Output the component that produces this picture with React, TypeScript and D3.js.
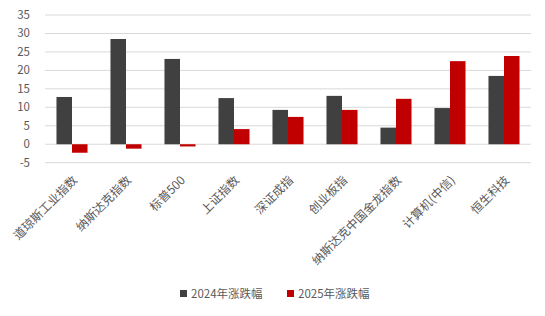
import React from "react";
import * as d3 from "d3";

const categories = ["道琼斯工业指数", "纳斯达克指数", "标普500", "上证指数", "深证成指", "创业板指", "纳斯达克中国金龙指数", "计算机(中信)", "恒生科技"];
const series2024 = [12.8, 28.5, 23.1, 12.5, 9.3, 13.1, 4.5, 9.8, 18.5];
const series2025 = [-2.3, -1.2, -0.6, 4.1, 7.4, 9.3, 12.3, 22.5, 23.9];
const yTicks = [-5, 0, 5, 10, 15, 20, 25, 30, 35];
const seriesNames = ["2024年涨跌幅", "2025年涨跌幅"];
const colors = ["#404040", "#c00000"];

const W = 545, H = 316;
const font = "'Noto Sans CJK SC', 'Microsoft YaHei', sans-serif";

export default function App() {
  const x = d3.scaleBand<string>().domain(categories).range([45, 531]).paddingInner(0.425).paddingOuter(0.2125);
  const y = d3.scaleLinear().domain([-5, 35]).range([162.7, 15]);
  const bw = x.bandwidth() / 2;
  const data = [series2024, series2025];
  return (
    <svg width={W} height={H} style={{ position: "absolute", left: 0, top: 0, background: "#fff" }} fontFamily={font}>
      {yTicks.map((t) => (
        <g key={t}>
          <line x1={45} x2={531} y1={y(t)} y2={y(t)} stroke="#d9d9d9" strokeWidth={1} />
          <text x={30} y={y(t)} dy="0.35em" textAnchor="end" fontSize={11.5} fill="#595959">{t}</text>
        </g>
      ))}
      {data.map((s, si) =>
        s.map((v, i) => (
          <rect key={`${si}-${i}`} x={(x(categories[i]) as number) + si * bw} width={bw}
            y={Math.min(y(v), y(0))} height={Math.abs(y(v) - y(0))} fill={colors[si]} />
        ))
      )}
      {categories.map((c) => {
        const cx = (x(c) as number) + x.bandwidth() / 2 + 3;
        const cy = 178;
        return (
          <text key={c} transform={`translate(${cx},${cy}) rotate(-45)`} textAnchor="end" fontSize={12} fill="#595959" dy="0.35em">{c}</text>
        );
      })}
      {seriesNames.map((n, i) => {
        const lx = [180, 287][i];
        return (
          <g key={n}>
            <rect x={lx} y={290} width={7} height={7} fill={colors[i]} />
            <text x={lx + 11} y={294} dy="0.35em" fontSize={11.5} fill="#595959">{n}</text>
          </g>
        );
      })}
    </svg>
  );
}
